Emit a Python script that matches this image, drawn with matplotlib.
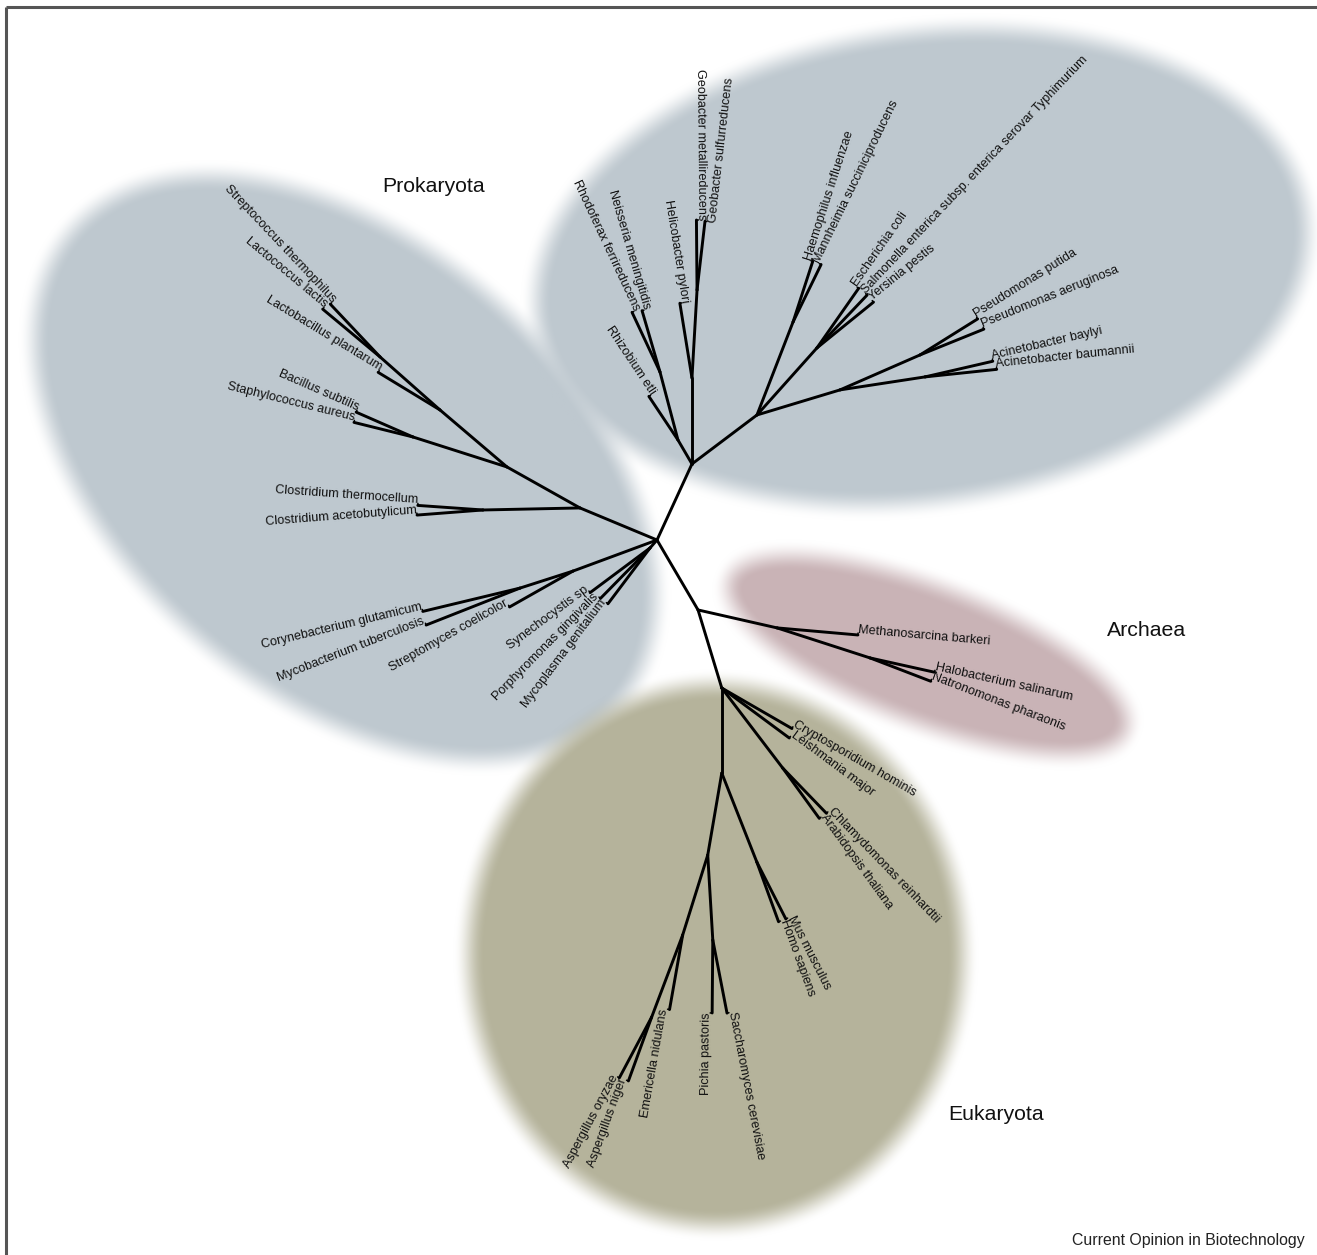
import numpy as np
import matplotlib
matplotlib.use("Agg")
import matplotlib.pyplot as plt

W, H = 1317, 1255

# ---------------- tree data (unrooted tree: parent, branch length, branch angle in degrees) ----------------
node_id = [
    "root",
    "f1", "fc", "Clostridium thermocellum", "Clostridium acetobutylicum",
    "f2", "fb", "Bacillus subtilis", "Staphylococcus aureus",
    "f3", "Lactobacillus plantarum", "f4", "Streptococcus thermophilus", "Lactococcus lactis",
    "a1", "Streptomyces coelicolor", "a2", "Corynebacterium glutamicum", "Mycobacterium tuberculosis",
    "s1", "Synechocystis sp", "Porphyromonas gingivalis", "Mycoplasma genitalium",
    "p1", "pb", "Rhizobium etli", "pc", "Rhodoferax ferrireducens", "Neisseria meningitidis",
    "ph", "Helicobacter pylori", "pg", "Geobacter metallireducens", "Geobacter sulfurreducens",
    "p2", "phm", "Haemophilus influenzae", "Mannheimia succiniciproducens",
    "pen", "Escherichia coli", "Salmonella enterica subsp. enterica serovar Typhimurium", "Yersinia pestis",
    "ppa", "pps", "Pseudomonas putida", "Pseudomonas aeruginosa",
    "pac", "Acinetobacter baylyi", "Acinetobacter baumannii",
    "ae", "ar", "Methanosarcina barkeri", "ahn", "Halobacterium salinarum", "Natronomonas pharaonis",
    "e1", "Cryptosporidium hominis", "Leishmania major",
    "epl", "Chlamydomonas reinhardtii", "Arabidopsis thaliana",
    "ef", "emh", "Mus musculus", "Homo sapiens",
    "eg", "eps", "Pichia pastoris", "Saccharomyces cerevisiae",
    "ean", "Emericella nidulans", "eas", "Aspergillus oryzae", "Aspergillus niger",
]
node_parent = [
    None,
    "root", "f1", "fc", "fc",
    "f1", "f2", "fb", "fb",
    "f2", "f3", "f3", "f4", "f4",
    "root", "a1", "a1", "a2", "a2",
    "root", "s1", "s1", "s1",
    "root", "p1", "pb", "pb", "pc", "pc",
    "p1", "ph", "ph", "pg", "pg",
    "p1", "p2", "phm", "phm",
    "p2", "pen", "pen", "pen",
    "p2", "ppa", "pps", "pps",
    "ppa", "pac", "pac",
    "root", "ae", "ar", "ar", "ahn", "ahn",
    "ae", "e1", "e1",
    "e1", "epl", "epl",
    "e1", "ef", "emh", "emh",
    "ef", "eg", "eps", "eps",
    "eg", "ean", "ean", "eas", "eas",
]
branch_length = [
    0.0,
    0.834, 0.970, 0.654, 0.662,
    0.837, 0.987, 0.620, 0.608,
    0.880, 0.724, 0.800, 0.726, 0.747,
    0.895, 0.730, 0.557, 1.000, 1.009,
    0.106, 0.747, 0.708, 0.699,
    0.837, 0.278, 0.524, 0.703, 0.659, 0.639,
    0.860, 0.757, 0.881, 0.700, 0.692,
    0.814, 0.997, 0.638, 0.640,
    0.899, 0.729, 0.729, 0.728,
    0.867, 0.873, 0.680, 0.689,
    0.860, 0.696, 0.721,
    0.811, 0.810, 0.812, 0.977, 0.661, 0.651,
    0.816, 0.810, 0.840,
    1.006, 0.629, 0.622,
    0.850, 0.956, 0.640, 0.636,
    0.832, 0.851, 0.730, 0.745,
    0.838, 0.757, 0.877, 0.689, 0.680,
]
branch_angle = [
    0.0,
    157.4, 181.2, 176.0, 184.4,
    150.7, 162.3, 156.4, 166.1,
    139.6, 148.7, 138.5, 133.3, 140.2,
    200.3, 209.5, 197.8, 193.5, 201.5,
    228.8, 216.7, 225.5, 233.0,
    65.3, 120.3, 123.7, 104.8, 115.1, 106.3,
    90.0, 99.2, 86.7, 90.5, 83.4,
    37.0, 68.8, 72.0, 64.0,
    48.2, 55.0, 46.5, 39.0,
    16.8, 23.6, 32.0, 22.0,
    8.7, 13.0, 6.0,
    -59.6, -12.8, -5.0, -17.9, -12.5, -21.0,
    -73.1, -30.0, -36.5,
    -52.7, -46.0, -54.0,
    -90.0, -68.5, -63.0, -70.0,
    -99.7, -86.6, -90.5, -79.0,
    -107.4, -100.0, -110.7, -118.0, -110.0,
]

group_names = ["Prokaryota", "Archaea", "Eukaryota"]
credit = "Current Opinion in Biotechnology"

# ---------------- layout / style ----------------
ROOT_PX = (657.0, 540.0)
SCALE = 100.0  # pixels per branch-length unit
FONT = ["Liberation Sans", "DejaVu Sans"]
HOOK = 2.0

fig = plt.figure(figsize=(W / 100, H / 100), dpi=100)
ax = fig.add_axes([0, 0, 1, 1])
ax.set_xlim(0, W)
ax.set_ylim(H, 0)
ax.axis("off")

# ---------------- soft coloured ellipses (background) ----------------
yy, xx = np.mgrid[0:H, 0:W].astype(float) + 0.5
img = np.ones((H, W, 3))

def soft_alpha(cx, cy, a, b, ang_deg, ramp=16.0):
    t = np.deg2rad(ang_deg)
    dx = xx - cx
    dy = -(yy - cy)
    u = dx * np.cos(t) + dy * np.sin(t)
    v = -dx * np.sin(t) + dy * np.cos(t)
    d = np.sqrt((u / a) ** 2 + (v / b) ** 2) + 1e-9
    g = np.sqrt((u / a**2) ** 2 + (v / b**2) ** 2) / d + 1e-12
    sd = (d - 1) / g
    s = np.clip(0.5 - sd / (2 * ramp), 0, 1)
    return s * s * (3 - 2 * s)

for (cx, cy, a, b, ang, colr) in [
    (345, 468, 362, 225, -41.0, "#bec8cf"),
    (922, 267, 388, 234, 8.0, "#bec8cf"),
    (928, 655, 212, 68, -21.0, "#c9b3b6"),
    (716, 955, 247, 270, 0.0, "#b5b39b"),
]:
    al = soft_alpha(cx, cy, a, b, ang)[..., None]
    col = np.array(matplotlib.colors.to_rgb(colr))
    img = img * (1 - al) + col * al

ax.imshow(img, extent=(0, W, H, 0), origin="upper", zorder=0, interpolation="nearest")

# ---------------- tree ----------------
pos = {}
children = set(p for p in node_parent if p is not None)
for nid, par, L, A in zip(node_id, node_parent, branch_length, branch_angle):
    if par is None:
        pos[nid] = ROOT_PX
        continue
    px, py = pos[par]
    t = np.deg2rad(A)
    x = px + L * SCALE * np.cos(t)
    y = py - L * SCALE * np.sin(t)
    pos[nid] = (x, y)
    ax.plot([px, x], [py, y], color="black", lw=2.1, solid_capstyle="round", zorder=3)
    if nid in children:
        continue
    a = (A + 180) % 360 - 180
    dirx, diry = np.cos(t), np.sin(t)  # y-up
    if -90 <= a <= 90:
        rot, ha = a, "left"
        upx, upy = -diry, dirx          # glyph-up = dir rotated +90
    else:
        rot, ha = (a - 180 if a > 0 else a + 180), "right"
        upx, upy = diry, -dirx          # glyph-up = dir rotated -90
    va = "baseline"
    side = 1.0
    if -90 <= a <= 90 and a > 80:
        va = "top"
        side = -1.0
    hx = x + side * HOOK * upx
    hy = y - side * HOOK * upy
    ax.plot([x, hx], [y, hy], color="black", lw=1.1, solid_capstyle="round", zorder=3)
    ax.text(hx, hy, nid, rotation=rot, rotation_mode="anchor", ha=ha, va=va,
            fontsize=9.1, family=FONT, color="#111111", zorder=4)

# ---------------- group labels ----------------
for name, (gx, gy) in zip(group_names, [(434, 187), (1147, 630), (996, 1115)]):
    ax.text(gx, gy, name, ha="center", va="center", fontsize=15.3, family=FONT, color="#111111", zorder=4)

ax.text(1305, 1245, credit, ha="right", va="baseline", fontsize=11.4, family=FONT, color="#222222", zorder=4)

# frame lines (top and left)
ax.plot([6, W], [7, 7], color="#555555", lw=2.2, zorder=5, solid_capstyle="butt")
ax.plot([6, 6], [7, H], color="#555555", lw=2.2, zorder=5, solid_capstyle="butt")

fig.savefig("out.png", dpi=100)
